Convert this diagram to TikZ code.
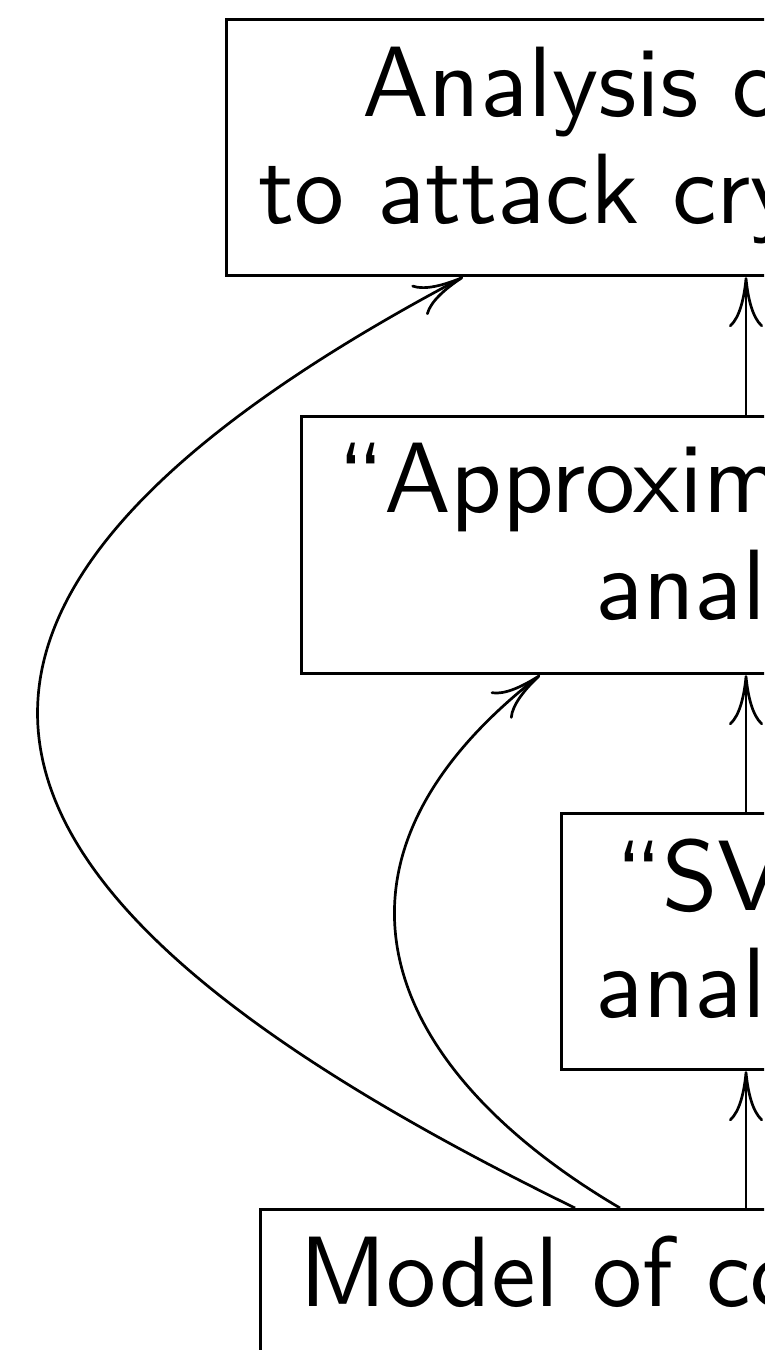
\documentclass[tikz,border=0pt]{standalone}
\usetikzlibrary{arrows.meta,calc}
\begin{document}
\begin{tikzpicture}[x=0.1pt,y=-0.1pt,
  box/.style={draw, line width=0.32pt, rectangle, inner sep=0pt, anchor=north west},
  txt/.style={font=\sffamily\fontsize{10}{10.7}\selectfont, inner sep=0pt, anchor=base west},
  arr/.style={line width=0.27pt, -{Computer Modern Rightarrow[length=5pt,width=3.4pt]}}]
\useasboundingbox (0,0) rectangle (764,1350);
\clip (0,0) rectangle (764,1350);
% boxes
\node[box, minimum width=120pt, minimum height=25.6pt] (b1) at (225,18) {};
\node[box, minimum width=120pt, minimum height=25.7pt] (b2) at (300,415) {};
\node[box, minimum width=120pt, minimum height=25.6pt] (b3) at (560,812) {};
\node[box, minimum width=120pt, minimum height=25.6pt] (b4) at (259,1208) {};
% texts
\node[txt] (t1a) at (360,117) {Analysis o};
\node[txt] (t1b) at (256,224) {to attack cry};
\node[txt] (t2a) at (335,513) {``Approxim};
\node[txt] (t2b) at (593,620) {analy};
\node[txt] (t3a) at (613,910) {``SV};
\node[txt] (t3b) at (593,1017) {analy};
\node[txt] (t4a) at (297,1306) {Model of co};
% vertical connectors
\coordinate (v) at (746,0);
\draw[arr] (v |- b4.north) -- (v |- b3.south);
\draw[arr] (v |- b3.north) -- (v |- b2.south);
\draw[arr] (v |- b2.north) -- (v |- b1.south);
% curved connectors
\coordinate (s1) at ($(b4.north west)+(316,0)$);
\coordinate (e1) at ($(b1.south west)+(238,0)$);
\coordinate (s2) at ($(b4.north west)+(361,0)$);
\coordinate (e2) at ($(b2.south west)+(240,0)$);
\draw[arr] (s1) .. controls (-28,913) and (-201,629) .. (e1);
\draw[arr] (s2) .. controls (382,1068) and (298,864) .. (e2);
\end{tikzpicture}
\end{document}
